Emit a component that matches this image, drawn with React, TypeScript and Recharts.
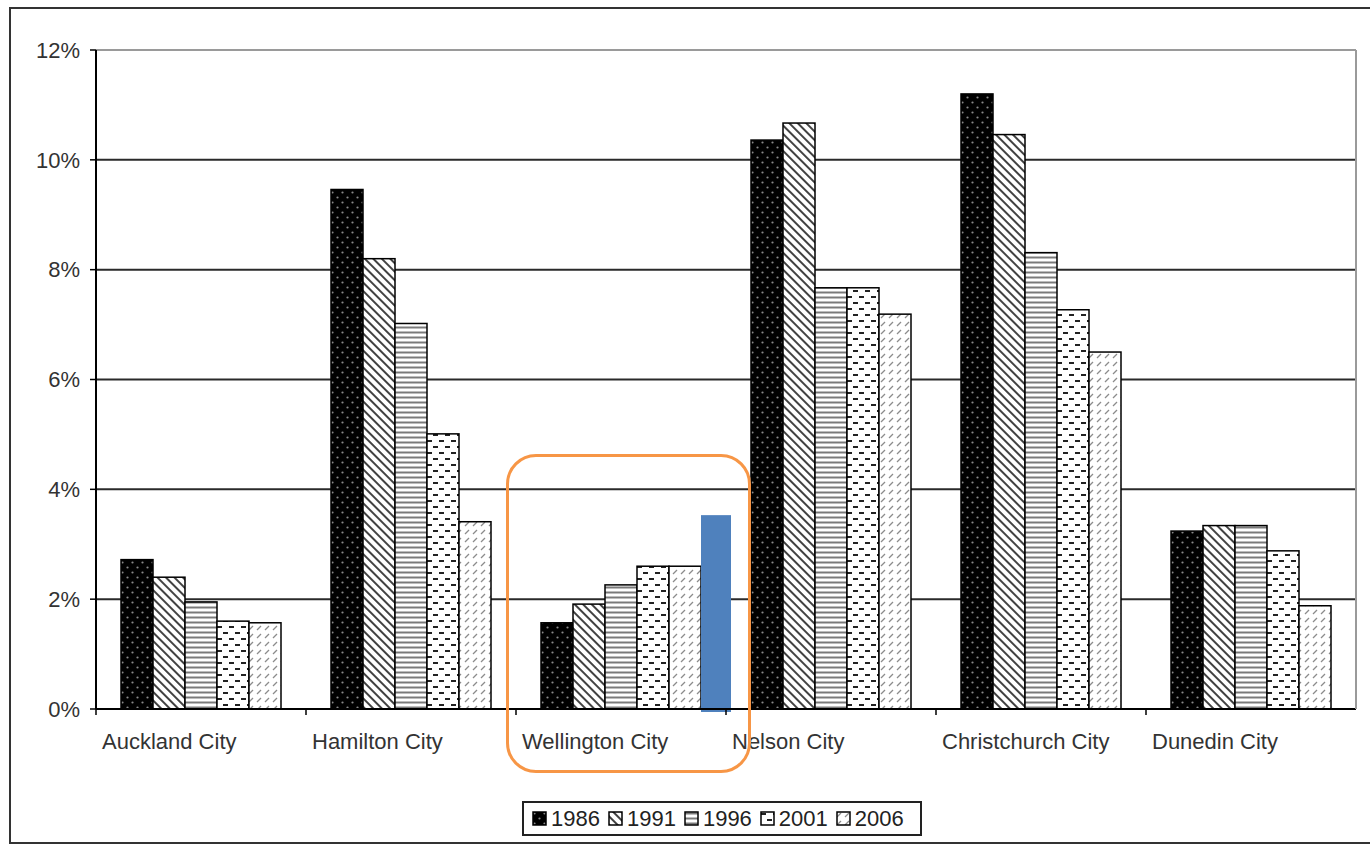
import React from "react";
import {
  BarChart,
  Bar,
  XAxis,
  YAxis,
  CartesianGrid,
  Legend,
  ReferenceLine,
} from "recharts";

// categories and series (percent values)
const cities = [
  "Auckland City",
  "Hamilton City",
  "Wellington City",
  "Nelson City",
  "Christchurch City",
  "Dunedin City",
];
const years = ["1986", "1991", "1996", "2001", "2006"];
const v1986 = [2.72, 9.46, 1.57, 10.36, 11.2, 3.24];
const v1991 = [2.4, 8.2, 1.91, 10.67, 10.46, 3.34];
const v1996 = [1.95, 7.02, 2.26, 7.67, 8.31, 3.34];
const v2001 = [1.6, 5.01, 2.6, 7.67, 7.27, 2.88];
const v2006 = [1.57, 3.41, 2.6, 7.19, 6.5, 1.88];
// the blue bar added next to Wellington
const highlight = [null, null, 3.53, null, null, null];
const yTicks = [0, 2, 4, 6, 8, 10, 12];

const series = [v1986, v1991, v1996, v2001, v2006];
const patternIds = ["p1986", "p1991", "p1996", "p2001", "p2006"];

const data = cities.map((name, i) => {
  const row: any = { name, highlight: highlight[i] };
  years.forEach((y, k) => {
    row["y" + y] = series[k][i];
  });
  return row;
});

const FONT = "'Liberation Sans', Arial, sans-serif";

const Patterns = () => (
  <svg width="0" height="0" style={{ position: "absolute" }}>
    <defs>
      {/* 1986: black with light dots */}
      <pattern id="p1986" patternUnits="userSpaceOnUse" width="10" height="10">
        <rect width="10" height="10" fill="#000" />
        <circle cx="2.5" cy="2.5" r="1.1" fill="#8a8a8a" />
        <circle cx="7.5" cy="7.5" r="1.1" fill="#8a8a8a" />
      </pattern>
      {/* 1991: dense back-diagonal lines */}
      <pattern
        id="p1991"
        patternUnits="userSpaceOnUse"
        width="6"
        height="6"
        patternTransform="rotate(45)"
      >
        <rect width="6" height="6" fill="#fff" />
        <line x1="0" y1="3" x2="6" y2="3" stroke="#111" strokeWidth="1.6" />
      </pattern>
      {/* 1996: horizontal gray lines */}
      <pattern id="p1996" patternUnits="userSpaceOnUse" width="6" height="5">
        <rect width="6" height="5" fill="#fff" />
        <line x1="0" y1="2.5" x2="6" y2="2.5" stroke="#7a7a7a" strokeWidth="2" />
      </pattern>
      {/* 2001: short dashes, staggered */}
      <pattern id="p2001" patternUnits="userSpaceOnUse" width="12" height="12">
        <rect width="12" height="12" fill="#fff" />
        <rect x="1" y="2" width="5" height="2" fill="#222" />
        <rect x="7" y="8" width="5" height="2" fill="#222" />
      </pattern>
      {/* 2006: light forward slashes */}
      <pattern id="p2006" patternUnits="userSpaceOnUse" width="8" height="8">
        <rect width="8" height="8" fill="#fff" />
        <line x1="1" y1="6" x2="5" y2="2" stroke="#8c8c8c" strokeWidth="1.2" />
      </pattern>
    </defs>
  </svg>
);

const PatternBar = (props: any) => {
  const { x, y, width, height, fill, payload, value } = props;
  if (height == null || height <= 0) return null;
  const hl = payload && payload.highlight;
  const unit = height / value;
  return (
    <g>
      <rect
        x={x}
        y={y}
        width={width}
        height={height}
        fill={fill}
        stroke="#000"
        strokeWidth={1.5}
      />
      {props.showHighlight && hl != null ? (
        <rect
          x={x + width}
          y={y + height - hl * unit}
          width={width - 2}
          height={hl * unit + 3}
          fill="#4f81bd"
        />
      ) : null}
    </g>
  );
};

const CityTick = (props: any) => {
  const { x, y, payload } = props;
  const half = payload && payload.offset ? payload.offset : 105;
  const left = x - half;
  return (
    <g>
      <line x1={left} y1={y - 6} x2={left} y2={y} stroke="#000" strokeWidth={1.5} />
      <text
        x={left + 6}
        y={y + 34}
        textAnchor="start"
        fill="#333"
        fontSize={22}
        fontFamily={FONT}
      >
        {payload.value}
      </text>
    </g>
  );
};

const LegendBox = () => (
  <div
    style={{
      display: "flex",
      alignItems: "center",
      border: "2px solid #222",
      height: 31,
      width: 388,
      padding: "0 0 0 8px",
      boxSizing: "content-box",
      fontFamily: FONT,
      fontSize: 22,
      color: "#222",
      background: "#fff",
    }}
  >
    {years.map((yr, k) => (
      <div key={yr} style={{ display: "flex", alignItems: "center", marginRight: k < 4 ? 8 : 0 }}>
        <svg width="15" height="15" style={{ marginRight: 4 }}>
          <rect
            x="1"
            y="1"
            width="13"
            height="13"
            fill={`url(#${patternIds[k]})`}
            stroke="#000"
            strokeWidth="1.5"
          />
        </svg>
        <span>{yr}</span>
      </div>
    ))}
  </div>
);

export default function App() {
  return (
    <div
      style={{
        position: "absolute",
        left: 0,
        top: 0,
        width: 1370,
        height: 847,
        background: "#fff",
        overflow: "hidden",
      }}
    >
      <Patterns />
      {/* outer frame */}
      <div
        style={{
          position: "absolute",
          left: 9,
          top: 7,
          width: 1370,
          height: 837,
          border: "2px solid #333",
          boxSizing: "border-box",
        }}
      />
      <div style={{ position: "absolute", left: 0, top: 0 }}>
        <BarChart
          width={1370}
          height={847}
          data={data}
          margin={{ top: 50, right: 13, left: 10, bottom: 78 }}
          barCategoryGap={25}
          barGap={0}
        >
          <CartesianGrid
            horizontal={true}
            vertical={false}
            stroke="#2a2a2a"
            strokeWidth={2}
            yAxisId="left"
            horizontalValues={[2, 4, 6, 8, 10]}
          />
          <ReferenceLine yAxisId="left" y={12} stroke="#9a9a9a" strokeWidth={2} />
          <XAxis
            dataKey="name"
            height={60}
            axisLine={{ stroke: "#000", strokeWidth: 2 }}
            tickLine={false}
            tickSize={6}
            tickMargin={0}
            interval={0}
            tick={<CityTick />}
          />
          <YAxis
            yAxisId="left"
            width={86}
            domain={[0, 12]}
            ticks={yTicks}
            tickFormatter={(v: number) => `${v}%`}
            axisLine={{ stroke: "#000", strokeWidth: 2 }}
            tickLine={{ stroke: "#000", strokeWidth: 1.5 }}
            tickSize={6}
            tickMargin={10}
            tick={{ fill: "#333", fontSize: 22, fontFamily: FONT }}
          />
          <YAxis
            yAxisId="right"
            orientation="right"
            width={1}
            domain={[0, 12]}
            tick={false}
            tickLine={false}
            axisLine={{ stroke: "#9a9a9a", strokeWidth: 2 }}
          />
          <Legend
            layout="horizontal"
            verticalAlign="middle"
            align="center"
            wrapperStyle={{ top: 801, left: 522, width: "auto" }}
            content={() => <LegendBox />}
          />
          {years.map((yr, k) => (
            <Bar
              key={yr}
              yAxisId="left"
              dataKey={"y" + yr}
              name={yr}
              fill={`url(#${patternIds[k]})`}
              isAnimationActive={false}
              shape={(p: any) => <PatternBar {...p} showHighlight={k === 4} />}
            />
          ))}
        </BarChart>
      </div>
      {/* orange annotation around Wellington */}
      <div
        style={{
          position: "absolute",
          left: 506,
          top: 454,
          width: 245,
          height: 319,
          border: "3px solid #f79646",
          borderRadius: 30,
          boxSizing: "border-box",
          pointerEvents: "none",
        }}
      />
    </div>
  );
}
